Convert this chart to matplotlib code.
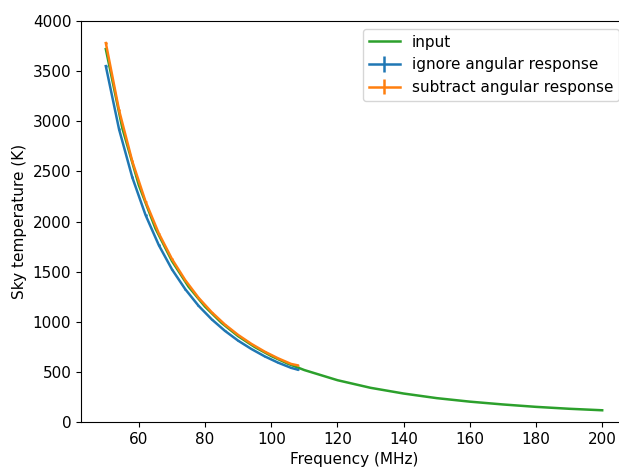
import matplotlib.pyplot as plt
import numpy as np

# input sky model (green)
freq_in = [50, 55, 60, 65, 70, 75, 80, 85, 90, 95, 100, 105, 110,
           120, 130, 140, 150, 160, 170, 180, 190, 200]
temp_in = [3720, 2930, 2360, 1930, 1605, 1350, 1150, 988, 856, 748, 658, 582, 518,
           417, 341, 284, 238, 203, 175, 151, 132, 117]

# recovered spectra (errorbar series)
freq_fit = [50, 54, 58, 62, 66, 70, 74, 78, 82, 86, 90, 94, 98, 102, 106, 108]
temp_ignore = [3550, 2920, 2440, 2065, 1765, 1522, 1325, 1160, 1024, 909,
               811, 728, 655, 593, 540, 522]
err_ignore = [12, 10, 9, 8, 7, 6, 6, 5, 5, 5, 4, 4, 4, 4, 4, 4]
temp_subtract = [3780, 3110, 2600, 2200, 1882, 1625, 1415, 1240, 1095, 972,
                 868, 779, 702, 636, 579, 565]
err_subtract = [12, 10, 9, 8, 7, 6, 6, 5, 5, 5, 4, 4, 4, 4, 4, 4]

plt.rcParams['font.size'] = 11

fig = plt.figure(figsize=(6.19, 4.68), dpi=100)
# right edge of the axes lies just past the figure, as in the cropped original
ax = fig.add_axes([81 / 619, 46 / 468, 546 / 619, 401 / 468])

ax.plot(freq_in, temp_in, color='C2', lw=1.8, label='input')
ax.errorbar(freq_fit, temp_ignore, yerr=err_ignore, color='C0', lw=1.8,
            label='ignore angular response')
ax.errorbar(freq_fit, temp_subtract, yerr=err_subtract, color='C1', lw=1.8,
            label='subtract angular response')

ax.set_xlim(42.5, 207.5)
ax.set_ylim(0, 4000)
ax.set_xticks([60, 80, 100, 120, 140, 160, 180, 200])
ax.set_xlabel('Frequency (MHz)')
ax.set_ylabel('Sky temperature (K)')
ax.legend(loc='upper right')

fig.savefig('out.png', dpi=100)
